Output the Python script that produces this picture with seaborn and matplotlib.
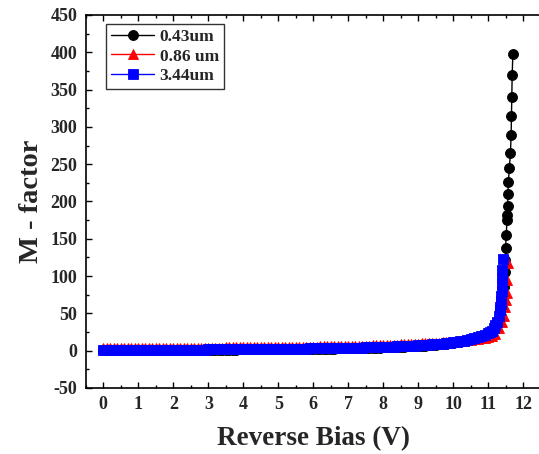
import numpy as np
import pandas as pd
import matplotlib
matplotlib.use("Agg")
import matplotlib.pyplot as plt
import seaborn as sns
from matplotlib.ticker import MultipleLocator

# ---------------- data ----------------
series_names = ["0.43um", "0.86 um", "3.44um"]
series_colors = ["black", "red", "blue"]
series_markers = ["o", "^", "s"]

# common low-bias grid 0 .. 10.9 V in 0.1 V steps
v_low = np.round(np.arange(0, 10.95, 0.1), 2)

m_043_low = [
    1.00, 1.00, 1.00, 1.01, 1.01, 1.01, 1.02, 1.02, 1.02, 1.03,
    1.03, 1.04, 1.05, 1.06, 1.07, 1.08, 1.09, 1.10, 1.11, 1.12,
    1.13, 1.15, 1.17, 1.19, 1.21, 1.23, 1.25, 1.27, 1.29, 1.31,
    1.33, 1.36, 1.39, 1.42, 1.45, 1.48, 1.51, 1.54, 1.57, 1.60,
    1.63, 1.66, 1.69, 1.72, 1.75, 1.79, 1.83, 1.87, 1.91, 1.95,
    1.99, 2.03, 2.07, 2.11, 2.16, 2.21, 2.26, 2.31, 2.36, 2.42,
    2.48, 2.54, 2.60, 2.67, 2.74, 2.81, 2.88, 2.96, 3.04, 3.12,
    3.21, 3.30, 3.40, 3.50, 3.61, 3.72, 3.84, 3.96, 4.09, 4.23,
    4.37, 4.52, 4.68, 4.85, 5.03, 5.22, 5.42, 5.64, 5.87, 6.11,
    6.37, 6.65, 6.95, 7.27, 7.62, 8.00, 8.40, 8.85, 9.35, 9.90,
    10.5, 11.2, 12.0, 12.9, 13.9, 15.0, 16.3, 17.8, 19.5, 21.5,
]
v_043_tail = [11.0, 11.1, 11.2, 11.3, 11.35, 11.4, 11.43, 11.45, 11.47, 11.48,
              11.49, 11.51, 11.53, 11.54, 11.55, 11.56, 11.57, 11.60, 11.63,
              11.65, 11.66, 11.67, 11.68, 11.70]
m_043_tail = [23, 26, 30, 38, 46, 60, 72, 85, 105, 122,
              137, 155, 175, 182, 194, 210, 226, 245, 265,
              289, 315, 340, 370, 398]

m_086_low = [
    3.50, 3.51, 3.52, 3.53, 3.54, 3.55, 3.56, 3.57, 3.58, 3.59,
    3.60, 3.62, 3.64, 3.66, 3.68, 3.70, 3.72, 3.74, 3.76, 3.78,
    3.80, 3.83, 3.86, 3.89, 3.92, 3.95, 3.98, 4.01, 4.04, 4.07,
    4.10, 4.14, 4.18, 4.22, 4.26, 4.30, 4.34, 4.38, 4.42, 4.46,
    4.50, 4.54, 4.58, 4.62, 4.66, 4.70, 4.75, 4.80, 4.85, 4.90,
    4.95, 5.00, 5.05, 5.10, 5.15, 5.20, 5.26, 5.32, 5.38, 5.44,
    5.50, 5.57, 5.64, 5.71, 5.78, 5.86, 5.94, 6.02, 6.10, 6.20,
    6.30, 6.40, 6.50, 6.60, 6.70, 6.82, 6.95, 7.08, 7.22, 7.36,
    7.50, 7.65, 7.80, 7.98, 8.16, 8.35, 8.55, 8.77, 9.00, 9.25,
    9.50, 9.70, 9.90, 10.1, 10.3, 10.5, 10.8, 11.1, 11.4, 11.7,
    12.0, 12.4, 12.8, 13.3, 13.8, 14.4, 15.0, 15.7, 16.4, 17.2,
]
v_086_tail = [11.0, 11.1, 11.2, 11.31, 11.4, 11.45, 11.48, 11.5, 11.52, 11.53, 11.55]
m_086_tail = [18, 20, 23, 30, 38, 46, 58, 68, 77, 95, 117]

m_344_low = [
    1.00, 1.01, 1.02, 1.03, 1.04, 1.05, 1.06, 1.07, 1.08, 1.09,
    1.10, 1.12, 1.14, 1.16, 1.18, 1.20, 1.22, 1.24, 1.26, 1.28,
    1.30, 1.33, 1.36, 1.39, 1.42, 1.45, 1.48, 1.51, 1.54, 1.57,
    1.60, 1.64, 1.68, 1.72, 1.76, 1.80, 1.84, 1.88, 1.92, 1.96,
    2.00, 2.04, 2.08, 2.12, 2.16, 2.20, 2.25, 2.30, 2.35, 2.40,
    2.45, 2.50, 2.55, 2.60, 2.65, 2.70, 2.76, 2.82, 2.88, 2.94,
    3.00, 3.07, 3.14, 3.21, 3.28, 3.36, 3.44, 3.52, 3.60, 3.70,
    3.80, 3.90, 4.00, 4.10, 4.20, 4.32, 4.45, 4.58, 4.72, 4.86,
    5.00, 5.15, 5.30, 5.48, 5.66, 5.85, 6.05, 6.27, 6.50, 6.75,
    7.00, 7.30, 7.60, 7.90, 8.30, 8.70, 9.10, 9.60, 10.1, 10.6,
    11.2, 11.8, 12.5, 13.3, 14.2, 15.2, 16.4, 17.8, 19.4, 21.3,
]
v_344_tail = [11.0, 11.05, 11.1, 11.15, 11.2, 11.25, 11.3, 11.33, 11.34, 11.35,
              11.36, 11.37, 11.38, 11.39, 11.395, 11.40, 11.42]
m_344_tail = [23.5, 25, 27, 30, 34, 39, 46, 54, 58, 62,
              67, 73, 80, 90, 98, 108, 123]

x_ticks = list(range(0, 13))
y_ticks = list(range(-50, 451, 50))

# ---------------- figure ----------------
sns.set_style("ticks")
plt.rcParams["font.family"] = ["Liberation Serif", "DejaVu Serif"]
plt.rcParams["font.weight"] = "bold"
plt.rcParams["axes.labelweight"] = "bold"
plt.rcParams["axes.unicode_minus"] = False

fig = plt.figure(figsize=(5.39, 4.54), dpi=100)
ax = fig.add_axes([0.1592, 0.1454, 0.8443, 0.8216])

all_v = [np.concatenate([v_low, v_043_tail]),
         np.concatenate([v_low, v_086_tail]),
         np.concatenate([v_low, v_344_tail])]
all_m = [np.array(m_043_low + m_043_tail),
         np.array(m_086_low + m_086_tail),
         np.array(m_344_low + m_344_tail)]
msizes = [7.2, 7.4, 6.6]

for name, col, mk, vv, mm, ms in zip(series_names, series_colors, series_markers,
                                     all_v, all_m, msizes):
    df = pd.DataFrame({"V": vv, "M": mm})
    sns.lineplot(data=df, x="V", y="M", ax=ax, color=col, marker=mk,
                 markersize=ms, markeredgewidth=0.6, markeredgecolor=col,
                 linewidth=1.0, estimator=None, sort=False, label=name)

ax.set_xlim(-0.5, 12.5)
ax.set_ylim(-50, 450)
ax.set_xticks(x_ticks)
ax.set_yticks(y_ticks)
ax.xaxis.set_minor_locator(MultipleLocator(0.5))
ax.yaxis.set_minor_locator(MultipleLocator(25))
ax.tick_params(which="both", direction="in", top=True, right=False,
               labelsize=13, width=1.0, color="black")
ax.tick_params(which="major", length=4.5, pad=6)
ax.tick_params(which="minor", length=2.5)
for lab in ax.get_xticklabels() + ax.get_yticklabels():
    lab.set_fontweight("bold")
for sp in ax.spines.values():
    sp.set_linewidth(1.2)
    sp.set_color("black")

ax.set_xlabel("Reverse Bias (V)", fontsize=19.5, fontweight="bold", labelpad=9)
ax.set_ylabel("M - factor", fontsize=20.5, fontweight="bold", labelpad=5)

leg = ax.legend(loc="upper left", bbox_to_anchor=(0.044, 0.977), fontsize=12.5,
                frameon=True, fancybox=False, edgecolor="black",
                handlelength=2.5, handletextpad=0.3, borderpad=0.3,
                labelspacing=0.2, borderaxespad=0)
leg.get_frame().set_linewidth(1.0)
for t in leg.get_texts():
    t.set_fontweight("bold")

fig.savefig("out.png", dpi=100)
